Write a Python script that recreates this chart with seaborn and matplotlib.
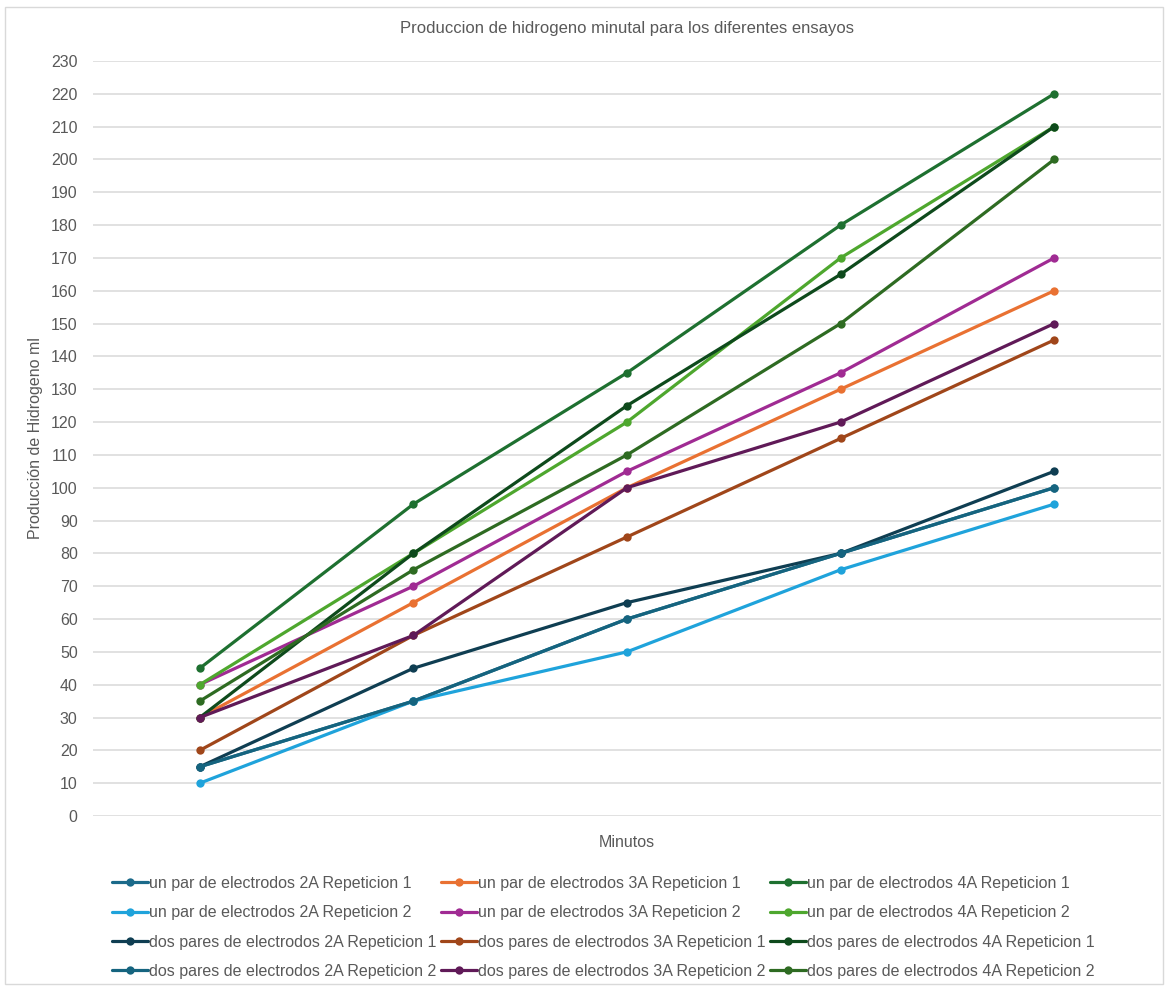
import matplotlib.pyplot as plt
import matplotlib.patches as mpatches
import pandas as pd
import seaborn as sns

# Data (ml of hydrogen per minute mark)
minutos = [1, 2, 3, 4, 5]
series = [
    "un par de electrodos 2A Repeticion 1",
    "un par de electrodos 2A Repeticion 2",
    "dos pares de electrodos 2A Repeticion 1",
    "dos pares de electrodos 2A Repeticion 2",
    "un par de electrodos 3A Repeticion 1",
    "un par de electrodos 3A Repeticion 2",
    "dos pares de electrodos 3A Repeticion 1",
    "dos pares de electrodos 3A Repeticion 2",
    "un par de electrodos 4A Repeticion 1",
    "un par de electrodos 4A Repeticion 2",
    "dos pares de electrodos 4A Repeticion 1",
    "dos pares de electrodos 4A Repeticion 2",
]
un_2a_r1 = [15, 35, 60, 80, 100]
un_2a_r2 = [10, 35, 50, 75, 95]
dos_2a_r1 = [15, 45, 65, 80, 105]
dos_2a_r2 = [15, 35, 60, 80, 100]
un_3a_r1 = [30, 65, 100, 130, 160]
un_3a_r2 = [40, 70, 105, 135, 170]
dos_3a_r1 = [20, 55, 85, 115, 145]
dos_3a_r2 = [30, 55, 100, 120, 150]
un_4a_r1 = [45, 95, 135, 180, 220]
un_4a_r2 = [40, 80, 120, 170, 210]
dos_4a_r1 = [30, 80, 125, 165, 210]
dos_4a_r2 = [35, 75, 110, 150, 200]
values = [un_2a_r1, un_2a_r2, dos_2a_r1, dos_2a_r2,
          un_3a_r1, un_3a_r2, dos_3a_r1, dos_3a_r2,
          un_4a_r1, un_4a_r2, dos_4a_r1, dos_4a_r2]
colors = ["#1B6A8A", "#1FA3DB", "#0F3E52", "#15647F",
          "#E97132", "#A02B93", "#A0461A", "#601A58",
          "#1E7030", "#4EA72E", "#0E4A1C", "#2E6B22"]

# draw order as in Excel (un par 2A, 3A, 4A, then ... )
draw_order = [0, 4, 8, 1, 5, 9, 2, 6, 10, 3, 7, 11]

rows = []
for name, vals in zip(series, values):
    for m, v in zip(minutos, vals):
        rows.append({"Minutos": m, "ml": v, "serie": name})
df = pd.DataFrame(rows)

sns.set_style("white")
plt.rcParams["font.family"] = ["Liberation Sans", "DejaVu Sans"]

fig = plt.figure(figsize=(11.68, 9.88), dpi=100)
ax = fig.add_axes([0.0796, 0.1741, 0.9144, 0.7642])

palette = dict(zip(series, colors))
for i in draw_order:
    sns.lineplot(data=df[df["serie"] == series[i]], x="Minutos", y="ml",
                 color=palette[series[i]], marker="o", markersize=6,
                 markeredgewidth=0, linewidth=2.3, label=series[i], ax=ax)

ax.set_xlim(0.5, 5.5)
ax.set_ylim(0, 230)
ax.set_yticks(range(0, 231, 10))
ax.set_xticks([])
ax.yaxis.grid(True, color="#D9D9D9", linewidth=1.1)
ax.set_axisbelow(True)
for s in ax.spines.values():
    s.set_visible(False)
ax.tick_params(axis="y", length=0, pad=11, labelsize=11.5, labelcolor="#595959")
ax.set_xlabel("Minutos", fontsize=11.5, color="#595959", labelpad=14)
ax.set_ylabel("Producción de Hidrogeno ml", fontsize=11.5, color="#595959", labelpad=6)
ax.set_title("Produccion de hidrogeno minutal para los diferentes ensayos",
             fontsize=12, color="#595959", pad=20)

handles, labels = ax.get_legend_handles_labels()
lookup = dict(zip(labels, handles))
ax.get_legend().remove()
fig.legend([lookup[s] for s in series], series, ncol=3, frameon=False,
           loc="upper left", bbox_to_anchor=(0.084, 0.128), bbox_transform=fig.transFigure,
           fontsize=11.5, labelcolor="#595959", handlelength=2.2, handletextpad=0.1,
           columnspacing=0.3, labelspacing=0.9)

fig.patches.append(mpatches.Rectangle((0.004, 0.004), 0.992, 0.989, transform=fig.transFigure,
                                      fill=False, edgecolor="#D9D9D9", linewidth=1))
plt.savefig("out.png", dpi=100)
